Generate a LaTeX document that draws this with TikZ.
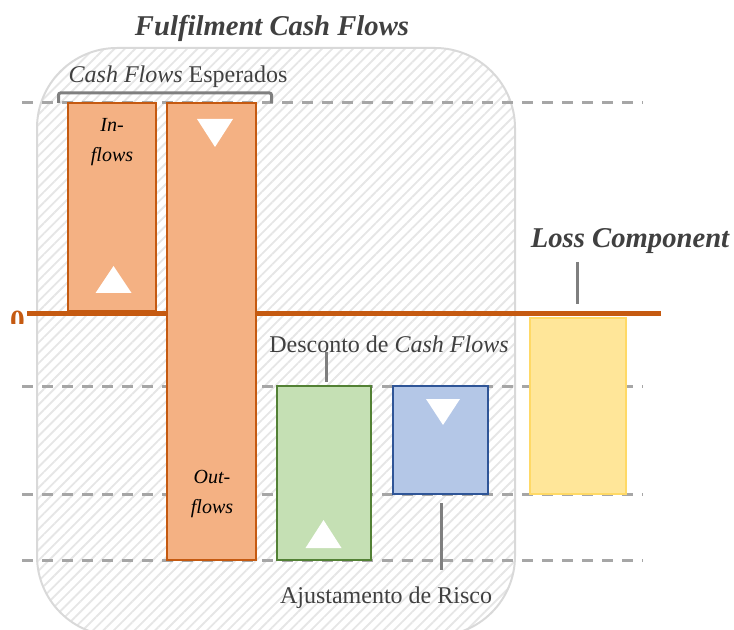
\documentclass[tikz,border=0pt]{standalone}
\usepackage{fontspec}
\setmainfont{Liberation Serif}
\usetikzlibrary{patterns.meta}
\definecolor{flow orange}{HTML}{F4B183}
\definecolor{flow orange dark}{HTML}{C55A11}
\definecolor{discount green}{HTML}{C5E0B4}
\definecolor{discount green dark}{HTML}{538135}
\definecolor{risk blue}{HTML}{B4C7E7}
\definecolor{risk blue dark}{HTML}{2F5597}
\definecolor{loss yellow}{HTML}{FFE699}
\definecolor{loss yellow dark}{HTML}{FFD966}
\definecolor{guide gray}{HTML}{A6A6A6}
\definecolor{leader gray}{HTML}{7F7F7F}
\definecolor{frame gray}{HTML}{D9D9D9}
\definecolor{hatch gray}{HTML}{E6E6E6}
\definecolor{label gray}{HTML}{404040}

\begin{document}
\begin{tikzpicture}[x=0.75pt,y=-0.75pt,
		leader/.style={draw=leader gray, line width=2.25pt},
		guide/.style={draw=guide gray, line width=2.25pt, dash pattern=on 8.5pt off 6.5pt},
		label/.style={text=label gray, inner sep=0pt, font=\fontsize{18}{20}\selectfont},
		headline/.style={text=label gray, inner sep=0pt, font=\bfseries\itshape\fontsize{21.5}{24}\selectfont},
		flowtext/.style={align=center, inner sep=0pt, font=\itshape\fontsize{15}{22}\selectfont}]
	\useasboundingbox (0,0) rectangle (734,630);
	% frame for fulfilment cash flows
	\begin{scope}
		\clip (0,0) rectangle (734,630);
		\draw[frame gray, line width=1.5pt, rounded corners=60pt,
			pattern={Lines[angle=45, distance=5.5pt, line width=1.4pt]}, pattern color=hatch gray]
			(37,48) rectangle (515,636);
	\end{scope}
	% guide lines
	\foreach \y in {103,386,494,560}
		\draw[guide] (22,\y) -- (643,\y);
	% zero line
	\draw[flow orange dark, line width=3.75pt] (27,314) -- (661,314);
	\begin{scope}
		\clip (0,300) rectangle (26,323.5);
		\node[text=flow orange dark, inner sep=0pt, font=\bfseries\fontsize{22}{24}\selectfont] (zero) at (17.5,320.5) {0};
	\end{scope}
	% expected cash flows
	\begin{scope}
		\draw[flow orange dark, fill=flow orange, line width=1.9pt] (68,103) rectangle (156,311);
		\draw[flow orange dark, fill=flow orange, line width=1.9pt] (167,103) rectangle (256,560);
		\fill[white] (113.5,266) -- ++(18,27) -- ++(-36,0) -- cycle;
		\fill[white] (215,147) -- ++(18,-28) -- ++(-36,0) -- cycle;
	\end{scope}
	% discount and risk adjustment
	\begin{scope}
		\draw[discount green dark, fill=discount green, line width=1.9pt] (277,386) rectangle (371,560);
		\draw[risk blue dark, fill=risk blue, line width=1.9pt] (393,386) rectangle (488,494);
		\fill[white] (323.5,520) -- ++(18,28) -- ++(-36,0) -- cycle;
		\fill[white] (443,425) -- ++(17,-26) -- ++(-34,0) -- cycle;
	\end{scope}
	% loss component
	\draw[loss yellow dark, fill=loss yellow, line width=1.9pt] (530,318) rectangle (626,494);
	% labels
	\node[headline] (title) at (272,28) {Fulfilment Cash Flows};
	\node[label] (esperados) at (178,77) {\textit{Cash Flows} Esperados};
	\node[flowtext] (inflows) at (112,142) {In-\\flows};
	\node[flowtext] (outflows) at (212,494) {Out-\\flows};
	\node[label] (desconto) at (389,344) {Desconto de \textit{Cash Flows}};
	\node[label] (ajuste) at (386,598) {Ajustamento de Risco};
	\node[headline] (loss) at (630,241) {Loss Component};
	% leaders
	\coordinate (brace l) at (58.5,103);
	\coordinate (brace r) at (271.5,103);
	\coordinate (dsc top) at (326,352);
	\coordinate (dsc bot) at (326,382);
	\coordinate (risk top) at (441,503);
	\coordinate (risk bot) at (441,570);
	\coordinate (loss top) at (577,262);
	\coordinate (loss bot) at (577,304);
	\draw[leader, rounded corners=1.5pt] (brace l) -- ++(0,-10) -| (brace r);
	\draw[leader] (dsc top) -- (dsc bot);
	\draw[leader] (risk top) -- (risk bot);
	\draw[leader] (loss top) -- (loss bot);
\end{tikzpicture}
\end{document}
